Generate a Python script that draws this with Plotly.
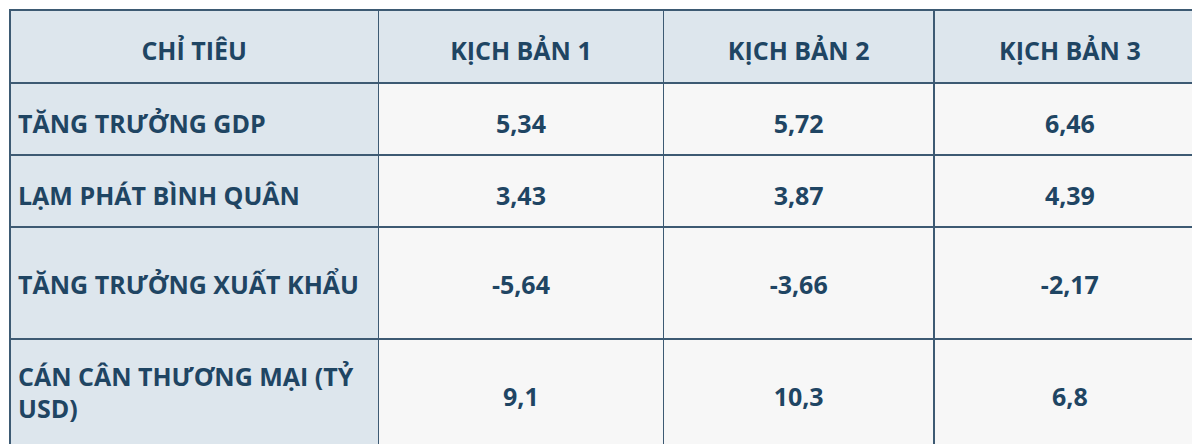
import plotly.graph_objects as go

header = ["CHỈ TIÊU", "KỊCH BẢN 1", "KỊCH BẢN 2", "KỊCH BẢN 3"]
indicators = ["TĂNG TRƯỞNG GDP", "LẠM PHÁT BÌNH QUÂN", "TĂNG TRƯỞNG XUẤT KHẨU",
              "CÁN CÂN THƯƠNG MẠI (TỶ<br>USD)"]
kb1 = ["5,34", "3,43", "-5,64", "9,1"]
kb2 = ["5,72", "3,87", "-3,66", "10,3"]
kb3 = ["6,46", "4,39", "-2,17", "6,8"]

navy = "#1f4563"
light = "#dde6ed"
white = "#f7f7f7"
line = "#3d5a73"

def sp(px):
    return "<span style='font-size:%dpx'> </span><br>" % px

# vertical spacing prefixes per row (labels / values)
lab_pre = [sp(8), sp(8), sp(24), sp(6)]
val_pre = [sp(8), sp(8), sp(24), sp(24)]
lab_post = ["", "", "<br><span style='font-size:18px'> </span>", ""]
val_post = ["", "", "<br><span style='font-size:18px'> </span>", "<br><span style='font-size:14px'> </span>"]

def col(vals, pre, post):
    return [pre[i] + "<b>%s</b>" % v + post[i] for i, v in enumerate(vals)]

fig = go.Figure(go.Table(
    domain=dict(x=[0.0, 1.0], y=[0.0, 1.0]),
    columnwidth=[368, 285, 270, 272],
    header=dict(values=[sp(8) + "<b>%s</b>" % h for h in header],
                fill_color=light, line=dict(color=line, width=1.5),
                align="center", height=73,
                font=dict(family="Open Sans", size=25, color=navy)),
    cells=dict(values=[col(indicators, lab_pre, lab_post),
                       col(kb1, val_pre, val_post),
                       col(kb2, val_pre, val_post),
                       col(kb3, val_pre, val_post)],
               fill_color=[[light]*4, [white]*4, [white]*4, [white]*4],
               line=dict(color=line, width=1.5),
               align=["left", "center", "center", "center"], height=72,
               font=dict(family="Open Sans", size=25, color=navy)),
))
fig.update_layout(width=1200, height=444, margin=dict(l=2, r=2, t=2, b=0, autoexpand=False),
                  paper_bgcolor="white")
fig.write_html("out.html")
